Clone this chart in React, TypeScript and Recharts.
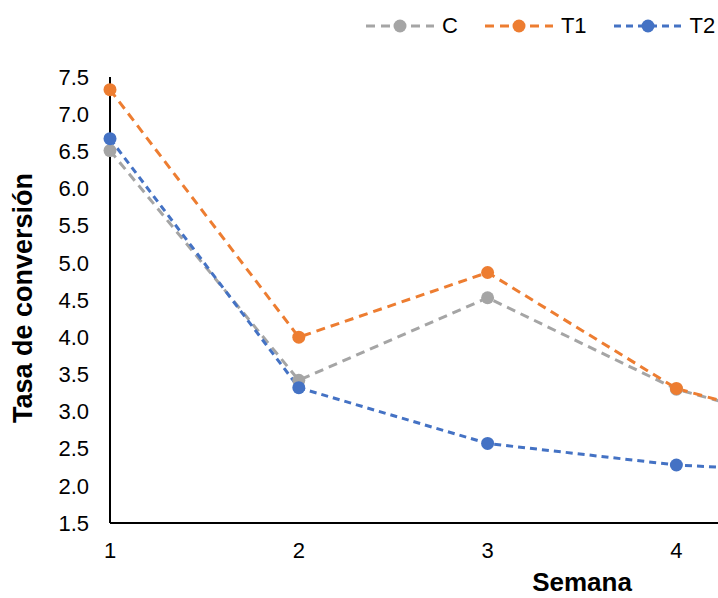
import { LineChart, Line, XAxis, YAxis } from 'recharts';

// week 5 sits past the right edge of the picture (the plot is cropped)
const WEEKS = [1, 2, 3, 4, 5];
const C_VALUES = [6.51, 3.42, 4.53, 3.3, 2.6];
const T1_VALUES = [7.33, 4.0, 4.87, 3.31, 2.61];
const T2_VALUES = [6.67, 3.32, 2.57, 2.28, 2.15];
const X_TICKS = [1, 2, 3, 4];
const Y_TICKS = [1.5, 2, 2.5, 3, 3.5, 4, 4.5, 5, 5.5, 6, 6.5, 7, 7.5];

const SERIES = [
  { key: 'C', name: 'C', color: '#A5A5A5', dash: '9 6' },
  { key: 'T1', name: 'T1', color: '#ED7D31', dash: '9 6' },
  { key: 'T2', name: 'T2', color: '#4472C4', dash: '7 5' },
];

const data = WEEKS.map((w, i) => ({ week: w, C: C_VALUES[i], T1: T1_VALUES[i], T2: T2_VALUES[i] }));

const FONT = '"Liberation Sans", Arial, sans-serif';

function LegendItem({ s }: { s: (typeof SERIES)[number] }) {
  return (
    <div style={{ display: 'flex', alignItems: 'center', marginRight: 27 }}>
      <svg width={68} height={16} style={{ marginRight: 8 }}>
        <line x1={0} y1={8} x2={68} y2={8} stroke={s.color} strokeWidth={3} strokeDasharray={s.dash} />
        <circle cx={34} cy={8} r={6.5} fill={s.color} />
      </svg>
      <span>{s.name}</span>
    </div>
  );
}

export default function App() {
  return (
    <div style={{ position: 'absolute', left: 0, top: 0, width: 718, height: 598, overflow: 'hidden', background: '#fff', fontFamily: FONT }}>
      <LineChart width={1070} height={598} data={data} margin={{ top: 77, right: 16, bottom: 15, left: 0 }}>
        <XAxis
          type="number"
          dataKey="week"
          domain={[1, 6]}
          ticks={X_TICKS}
          height={60}
          tickLine={false}
          tickSize={0}
          tickMargin={19}
          axisLine={{ stroke: '#000', strokeWidth: 2 }}
          tick={{ fill: '#000', fontSize: 22, fontFamily: FONT }}
          label={(props: any) => {
            const vb = props.viewBox;
            return (
              <text x={vb.x + vb.width / 2} y={591} textAnchor="middle" fontSize={26} fontWeight="bold" fontFamily={FONT} fill="#000">
                Semana
              </text>
            );
          }}
        />
        <YAxis
          type="number"
          domain={[1.5, 7.5]}
          ticks={Y_TICKS}
          width={110}
          tickLine={false}
          tickSize={0}
          tickMargin={21}
          interval={0}
          axisLine={{ stroke: '#000', strokeWidth: 2 }}
          tick={{ fill: '#000', fontSize: 22, fontFamily: FONT }}
          tickFormatter={(v: number) => v.toFixed(1)}
          label={(props: any) => {
            const vb = props.viewBox;
            const cy = vb.y + vb.height / 2 - 2;
            return (
              <text x={23} y={cy} transform={`rotate(-90, 23, ${cy})`} textAnchor="middle" dominantBaseline="central" fontSize={27} fontWeight="bold" fontFamily={FONT} fill="#000">
                Tasa de conversión
              </text>
            );
          }}
        />
        {SERIES.map((s) => (
          <Line
            key={s.key}
            type="linear"
            dataKey={s.key}
            name={s.name}
            stroke={s.color}
            strokeWidth={3}
            strokeDasharray={s.dash}
            dot={{ r: 6.5, fill: s.color, stroke: s.color, strokeWidth: 0 }}
            isAnimationActive={false}
          />
        ))}
      </LineChart>
      <div style={{ position: 'absolute', left: 366, top: 13, display: 'flex', fontSize: 22, color: '#000', fontFamily: FONT }}>
        {SERIES.map((s) => (
          <LegendItem key={s.key} s={s} />
        ))}
      </div>
    </div>
  );
}
